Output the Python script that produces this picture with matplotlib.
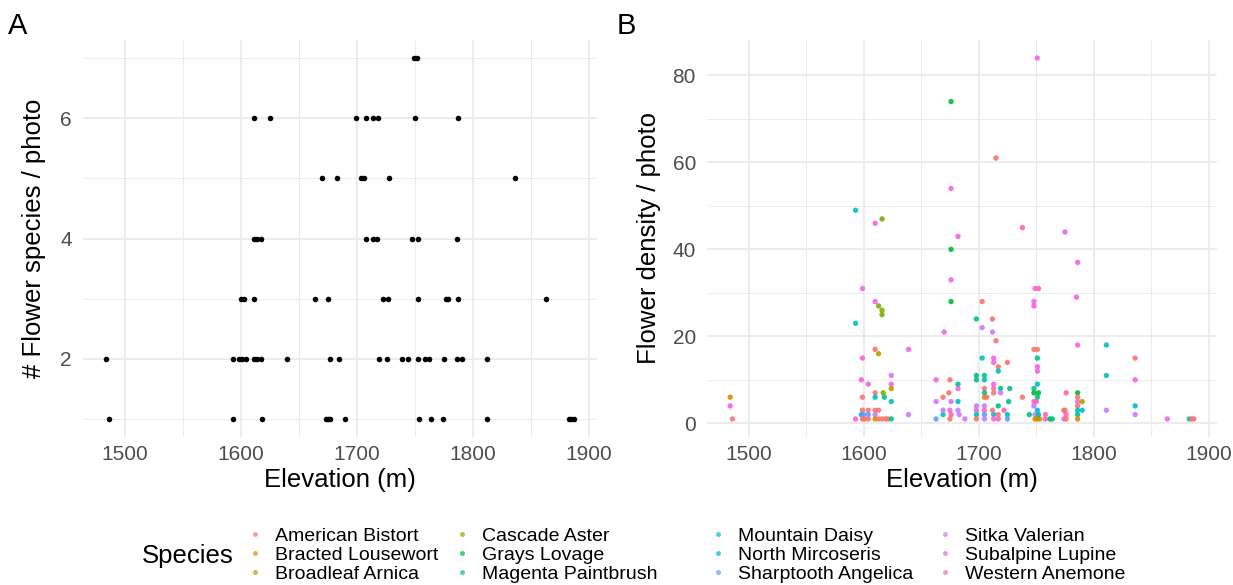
import matplotlib
matplotlib.use("Agg")
import matplotlib.pyplot as plt
from matplotlib.lines import Line2D
from matplotlib.ticker import MultipleLocator

plt.rcParams['font.family'] = ['Liberation Sans', 'DejaVu Sans']

# ---------------- data ----------------
species_names = ["American Bistort", "Bracted Lousewort", "Broadleaf Arnica",
                 "Cascade Aster", "Grays Lovage", "Magenta Paintbrush",
                 "Mountain Daisy", "North Mircoseris", "Sharptooth Angelica",
                 "Sitka Valerian", "Subalpine Lupine", "Western Anemone"]
palette = ["#F8766D", "#DE8C00", "#B79F00", "#7CAE00", "#00BA38", "#00C08B",
           "#00BFC4", "#00B4F0", "#619CFF", "#C77CFF", "#F564E3", "#FF64B0"]

# Panel A: species richness per photo
a_elev = [1749, 1752,
          1611, 1625, 1699.5, 1707.5, 1714, 1718, 1750.5, 1787,
          1670, 1683, 1704, 1706, 1728, 1836,
          1611, 1614, 1617, 1707.5, 1714, 1717, 1748, 1753, 1786.5,
          1600, 1603, 1611, 1664, 1675, 1723, 1726.5, 1753, 1777, 1779, 1787, 1863,
          1484, 1593, 1598, 1601, 1604, 1611, 1614, 1617, 1640, 1677, 1685, 1719,
          1726, 1739, 1744, 1753, 1758.5, 1762, 1775, 1786, 1791, 1812,
          1486, 1593, 1618, 1673, 1675, 1677, 1689.5, 1754, 1764, 1774, 1812,
          1883, 1885, 1887]
a_count = [7, 7,
           6, 6, 6, 6, 6, 6, 6, 6,
           5, 5, 5, 5, 5, 5,
           4, 4, 4, 4, 4, 4, 4, 4, 4,
           3, 3, 3, 3, 3, 3, 3, 3, 3, 3, 3, 3,
           2, 2, 2, 2, 2, 2, 2, 2, 2, 2, 2, 2,
           2, 2, 2, 2, 2, 2, 2, 2, 2, 2,
           1, 1, 1, 1, 1, 1, 1, 1, 1, 1, 1,
           1, 1, 1]

# Panel B: flower density per photo by species
b_elev = [
    1484, 1484, 1486,
    1593, 1593, 1593,
    1599, 1599, 1598, 1599, 1599, 1598, 1600, 1599, 1601,
    1604, 1604, 1604, 1604,
    1610, 1610, 1610, 1610, 1610, 1610, 1610, 1610,
    1613, 1613, 1613, 1613,
    1616, 1616, 1616, 1617, 1616,
    1618, 1619, 1621,
    1624, 1624, 1624, 1624, 1624,
    1639, 1639,
    1663, 1663, 1663,
    1669, 1669, 1670, 1669,
    1676, 1676, 1676, 1676, 1676, 1675, 1674, 1675, 1675, 1676, 1676,
    1682, 1682, 1682, 1682, 1682, 1683,
    1688,
    1698, 1698, 1698, 1698, 1698, 1698, 1698,
    1703, 1703, 1703, 1705, 1705, 1705, 1705, 1705, 1705, 1705, 1705, 1705, 1707,
    1712, 1712, 1713, 1713, 1713, 1713, 1713, 1713, 1713, 1712,
    1715, 1715, 1717, 1717, 1717, 1717, 1717, 1719, 1719,
    1725, 1722, 1725, 1725, 1726, 1727,
    1738, 1738,
    1744,
    1751, 1749, 1752, 1748, 1748, 1748, 1751, 1751, 1751, 1751, 1751, 1748,
    1751, 1748, 1750, 1748, 1751, 1749, 1749, 1751, 1753, 1752, 1752, 1748,
    1758, 1758,
    1762, 1764,
    1775, 1774, 1775, 1774, 1776, 1776, 1776,
    1786, 1785, 1786, 1786, 1786, 1786, 1786, 1786, 1786, 1786, 1790, 1790,
    1811, 1811, 1811,
    1836, 1836, 1836, 1836,
    1864,
    1883, 1885, 1887,
]
b_density = [
    6, 4, 1,
    49, 23, 1,
    31, 15, 10, 6, 3, 2, 2, 1, 1,
    9, 3, 2, 1,
    46, 28, 17, 7, 6, 3, 2, 1,
    27, 16, 3, 1,
    47, 26, 25, 7, 1,
    6, 1, 1,
    11, 9, 8, 5, 1,
    17, 2,
    10, 5, 1,
    6, 2, 21, 3,
    74, 54, 40, 33, 28, 10, 7, 3, 1, 5, 2,
    43, 9, 8, 5, 3, 2,
    1,
    24, 11, 10, 4, 3, 2, 1,
    28, 22, 15, 11, 10, 8, 7, 6, 4, 3, 2, 1, 6,
    24, 21, 15, 14, 9, 8, 7, 2, 1, 3,
    61, 19, 13, 12, 4, 2, 1, 8, 7,
    14, 3, 2, 1, 5, 8,
    45, 6,
    2,
    84, 31, 31, 28, 27, 17, 17, 15, 13, 12, 9, 8,
    6, 5, 5, 4, 3, 2, 1, 1, 1, 2, 7, 7,
    1, 2,
    1, 1,
    44, 3, 3, 1, 1, 2, 7,
    37, 29, 18, 7, 6, 5, 4, 3, 2, 1, 5, 3,
    18, 11, 3,
    15, 10, 4, 2,
    1,
    1, 1, 1,
]
b_species = [
    1, 10, 0,
    6, 6, 10,
    10, 10, 10, 0, 0, 7, 8, 0, 0,
    10, 0, 8, 0,
    10, 10, 0, 0, 6, 0, 9, 2,
    3, 2, 0, 0,
    3, 3, 3, 3, 0,
    5, 0, 0,
    9, 10, 2, 6, 5,
    10, 9,
    10, 9, 8,
    0, 6, 10, 9,
    4, 10, 4, 10, 4, 0, 0, 10, 0, 9, 11,
    10, 5, 10, 6, 9, 9,
    9,
    5, 5, 5, 9, 10, 6, 0,
    0, 9, 6, 5, 6, 0, 5, 1, 9, 11, 8, 9, 0,
    0, 9, 10, 10, 10, 11, 0, 7, 10, 0,
    0, 0, 0, 6, 5, 0, 11, 5, 9,
    0, 11, 6, 8, 5, 5,
    11, 0,
    5,
    10, 10, 11, 10, 10, 0, 0, 5, 10, 10, 6, 5,
    5, 10, 11, 9, 7, 9, 1, 2, 1, 5, 4, 4,
    10, 11,
    4, 5,
    10, 0, 0, 9, 0, 11, 11,
    10, 10, 10, 4, 0, 10, 0, 6, 5, 1, 2, 6,
    6, 6, 9,
    0, 10, 6, 9,
    10,
    6, 0, 0,
]
assert len(b_elev) == len(b_density) == len(b_species)

# ---------------- figure ----------------
W, H = 1233, 585
fig = plt.figure(figsize=(W / 100, H / 100), dpi=100)
fig.patch.set_facecolor("white")


def px_axes(l, r, t, b):
    return fig.add_axes([l / W, 1 - b / H, (r - l) / W, (b - t) / H])


axA = px_axes(83, 597, 40, 437)
axB = px_axes(707, 1217, 40, 437)

all_x = a_elev + b_elev
xlo, xhi = min(all_x), max(all_x)
xpad = (xhi - xlo) * 0.05

tick_col = "#4D4D4D"
grid_col = "#EBEBEB"

for ax in (axA, axB):
    ax.set_facecolor("white")
    for s in ax.spines.values():
        s.set_visible(False)
    ax.set_xlim(xlo - xpad, xhi + xpad)
    ax.xaxis.set_major_locator(MultipleLocator(100))
    ax.xaxis.set_minor_locator(MultipleLocator(50))
    ax.grid(which="major", color=grid_col, linewidth=1.3, zorder=0)
    ax.grid(which="minor", color=grid_col, linewidth=0.7, zorder=0)
    ax.set_axisbelow(True)
    ax.tick_params(which="both", length=0)
    ax.tick_params(axis="x", which="major", labelsize=15, labelcolor=tick_col, pad=6)
    ax.tick_params(axis="y", which="major", labelsize=15, labelcolor=tick_col, pad=8)
    ax.set_xlabel("Elevation (m)", fontsize=18.5, labelpad=3)

# Panel A
axA.scatter(a_elev, a_count, s=16, color="black", linewidths=0, zorder=3)
ylo, yhi = min(a_count), max(a_count)
ypad = (yhi - ylo) * 0.05
axA.set_ylim(ylo - ypad, yhi + ypad)
axA.yaxis.set_major_locator(MultipleLocator(2))
axA.yaxis.set_minor_locator(MultipleLocator(1))
axA.set_ylabel("# Flower species / photo", fontsize=18.5, labelpad=10)

# Panel B
colors_b = [palette[s] for s in b_species]
axB.scatter(b_elev, b_density, s=15, c=colors_b, linewidths=0, alpha=0.9, zorder=3)
ylo, yhi = min(b_density), max(b_density)
ypad = (yhi - ylo) * 0.05
axB.set_ylim(ylo - ypad, yhi + ypad)
axB.yaxis.set_major_locator(MultipleLocator(20))
axB.yaxis.set_minor_locator(MultipleLocator(10))
axB.set_ylabel("Flower density / photo", fontsize=18.5, labelpad=8)

# panel tags
fig.text(8 / W, 1 - 26 / H, "A", fontsize=21, va="center", ha="left")
fig.text(617 / W, 1 - 26 / H, "B", fontsize=21, va="center", ha="left")

# legend
fig.text(142 / W, 1 - 556 / H, "Species", fontsize=18.5, va="center", ha="left")
fs = 14
col_marker_x = [255, 462, 718, 945]
for c in range(4):
    handles = []
    labels = []
    for r in range(3):
        i = c * 3 + r
        handles.append(Line2D([], [], linestyle="none", marker="o", markersize=3.6,
                              markerfacecolor=palette[i], markeredgewidth=0,
                              alpha=0.7))
        labels.append(species_names[i])
    hl = 0.8
    anchor_x = (col_marker_x[c] - hl * fs * 100 / 72 / 2) / W
    fig.legend(handles, labels, loc="center left",
               bbox_to_anchor=(anchor_x, 1 - 555 / H), frameon=False,
               fontsize=fs, handlelength=hl, handletextpad=0.65,
               labelspacing=0.06, borderpad=0, borderaxespad=0)

fig.savefig("out.png", dpi=100, facecolor="white")
